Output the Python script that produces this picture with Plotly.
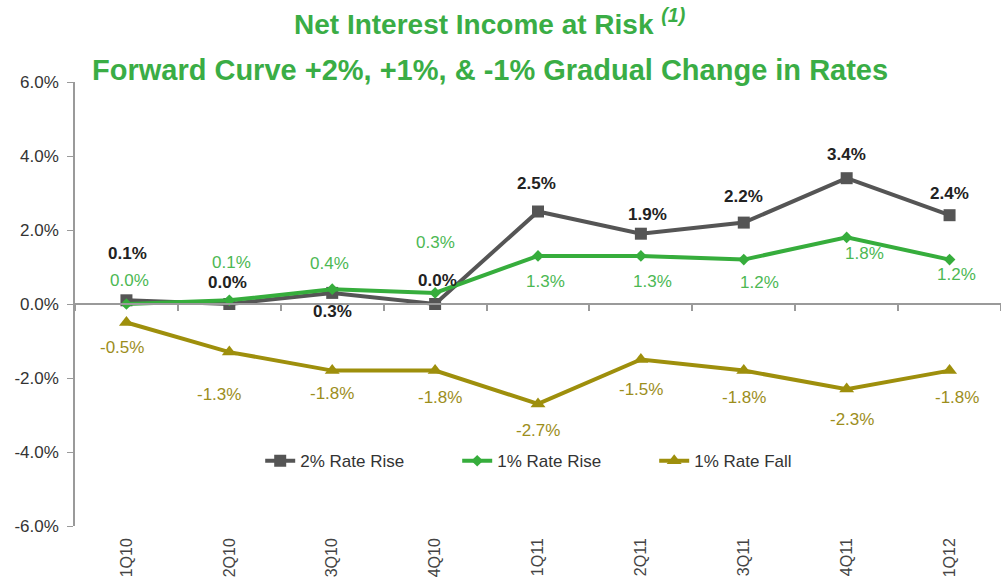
import plotly.graph_objects as go

# Quarters and net interest income sensitivity (% change) under each rate scenario
quarters = ["1Q10", "2Q10", "3Q10", "4Q10", "1Q11", "2Q11", "3Q11", "4Q11", "1Q12"]
rise_2pct = [0.1, 0.0, 0.3, 0.0, 2.5, 1.9, 2.2, 3.4, 2.4]
rise_1pct = [0.0, 0.1, 0.4, 0.3, 1.3, 1.3, 1.2, 1.8, 1.2]
fall_1pct = [-0.5, -1.3, -1.8, -1.8, -2.7, -1.5, -1.8, -2.3, -1.8]

y_tick_vals = [-6, -4, -2, 0, 2, 4, 6]
y_tick_text = ["-6.0%", "-4.0%", "-2.0%", "0.0%", "2.0%", "4.0%", "6.0%"]

# Label offsets (pixels) for the value labels of each series: (xshift, yshift)
offsets_2pct = [(1, 47), (-2, 22), (0, -19), (2, 24), (-2, 28), (7, 19), (0, 26), (0, 24), (0, 22)]
offsets_1pct = [(3, 24), (2, 38), (-3, 26), (0, 50), (7, -26), (12, -26), (16, -23), (18, -16), (7, -15)]
offsets_fall = [(-4, -25), (-10, -42), (0, -23), (5, -27), (0, -27), (0, -30), (0, -27), (5, -30), (7, -27)]

GRAY = "#555555"
GREEN = "#36ad3c"
OLIVE = "#9e8f0c"
TITLE_GREEN = "#3aad45"
AXIS = "#9a9a9a"
FONT = "Liberation Sans, Arial, sans-serif"


def pct(v):
    return f"{v:.1f}%"


series = [
    ("2% Rate Rise", rise_2pct, GRAY, dict(symbol="square", size=12), offsets_2pct,
     dict(color="#222222", size=17, family=FONT, weight="bold")),
    ("1% Rate Rise", rise_1pct, GREEN, dict(symbol="diamond", size=9), offsets_1pct,
     dict(color="#4cb853", size=17, family=FONT)),
    ("1% Rate Fall", fall_1pct, OLIVE, dict(symbol="triangle-up", size=13), offsets_fall,
     dict(color="#9c8e1c", size=17, family=FONT)),
]

fig = go.Figure()
annotations = []
for name, vals, color, marker, offs, lab_font in series:
    fig.add_trace(go.Scatter(
        x=quarters, y=vals, name=name, mode="lines+markers",
        line=dict(color=color, width=4),
        marker=dict(color=color, **marker),
    ))
    for q, v, (dx, dy) in zip(quarters, vals, offs):
        annotations.append(dict(
            x=q, y=v, xref="x", yref="y", text=pct(v), showarrow=False,
            xshift=dx, yshift=dy, font=lab_font,
        ))

# Chart titles
annotations.append(dict(
    x=0.448, y=1.135, xref="paper", yref="paper", xanchor="center", yanchor="middle",
    text="<b>Net Interest Income at Risk <sup><i>(1)</i></sup></b>", showarrow=False,
    font=dict(color=TITLE_GREEN, size=28, family=FONT),
))
annotations.append(dict(
    x=0.448, y=1.027, xref="paper", yref="paper", xanchor="center", yanchor="middle",
    text="<b>Forward Curve +2%, +1%, & -1% Gradual Change in Rates</b>", showarrow=False,
    font=dict(color=TITLE_GREEN, size=29, family=FONT),
))

fig.update_layout(
    width=1001, height=581,
    margin=dict(l=75, r=0, t=82, b=55),
    paper_bgcolor="white", plot_bgcolor="white",
    font=dict(family=FONT, color="#333333", size=16),
    showlegend=True,
    legend=dict(
        orientation="h", x=0.2, y=0.146, xanchor="left", yanchor="middle",
        font=dict(size=17, color="#333333", family=FONT),
        itemwidth=30, entrywidth=152, entrywidthmode="pixels",
        bgcolor="rgba(0,0,0,0)",
    ),
    xaxis=dict(
        type="category", range=[-0.5, 8.5], showline=False, showgrid=False,
        zeroline=False, ticks="", tickangle=-90, ticklabelstandoff=8,
        tickfont=dict(size=16, color="#444444", family=FONT),
    ),
    xaxis2=dict(
        overlaying="x", matches="x", anchor="free", position=0.5,
        showline=True, linecolor=AXIS, linewidth=2,
        ticks="outside", ticklen=6, tickcolor=AXIS, tickwidth=1.5,
        tickson="boundaries", showticklabels=False, showgrid=False, zeroline=False,
        type="category",
    ),
    yaxis=dict(
        range=[-6, 6], tickmode="array", tickvals=y_tick_vals, ticktext=y_tick_text,
        showline=True, linecolor=AXIS, linewidth=1.5,
        ticks="outside", ticklen=6, tickcolor=AXIS, ticklabelstandoff=5,
        showgrid=False, zeroline=False,
        tickfont=dict(size=17, color="#333333", family=FONT),
    ),
    annotations=annotations,
)

# The fall series sits on the zero-line axis, which carries the boundary tick marks
fig.data[2].update(xaxis="x2")

fig.write_html("out.html")
